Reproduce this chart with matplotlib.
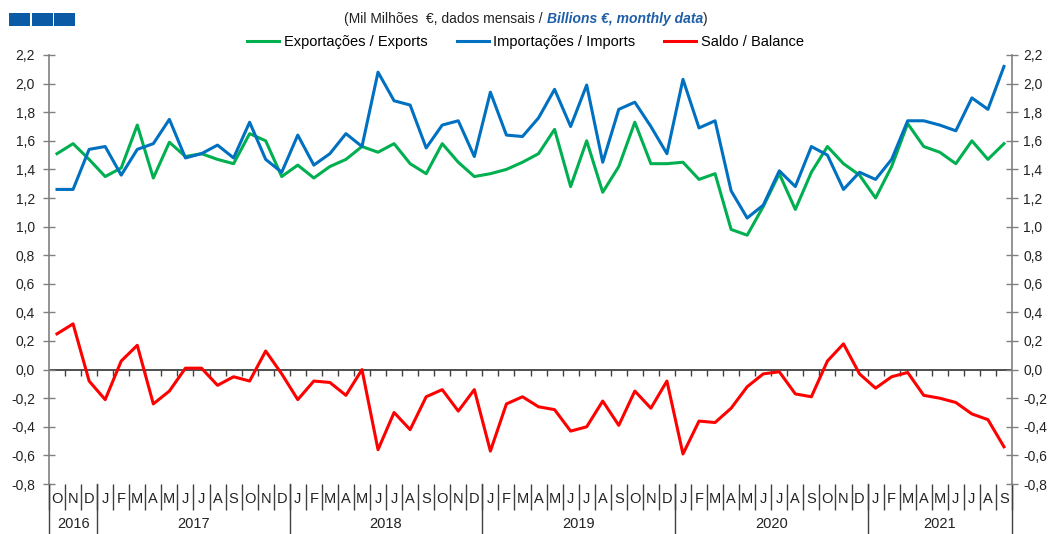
import numpy as np
import matplotlib
matplotlib.use("Agg")
import matplotlib.pyplot as plt
from matplotlib.patches import Rectangle
from matplotlib import font_manager

# fonts
names = set(f.name for f in font_manager.fontManager.ttflist)
narrow = "Liberation Sans Narrow" if "Liberation Sans Narrow" in names else "Liberation Sans"
plt.rcParams["font.family"] = ["Liberation Sans", "DejaVu Sans"]

# data: Oct 2016 .. Sep 2021, monthly, billions of euros
exports = [1.51, 1.58, 1.47, 1.35, 1.41, 1.71, 1.34, 1.59, 1.49, 1.51,
           1.47, 1.44, 1.65, 1.60, 1.35, 1.43, 1.34, 1.42, 1.47, 1.56,
           1.52, 1.58, 1.44, 1.37, 1.58, 1.45, 1.35, 1.37, 1.40, 1.45,
           1.51, 1.68, 1.28, 1.60, 1.24, 1.42, 1.73, 1.44, 1.44, 1.45,
           1.33, 1.37, 0.98, 0.94, 1.14, 1.37, 1.12, 1.38, 1.56, 1.44,
           1.36, 1.20, 1.42, 1.72, 1.56, 1.52, 1.44, 1.60, 1.47, 1.58]
imports = [1.26, 1.26, 1.54, 1.56, 1.36, 1.54, 1.58, 1.75, 1.48, 1.51,
           1.57, 1.48, 1.73, 1.47, 1.38, 1.64, 1.43, 1.51, 1.65, 1.56,
           2.08, 1.88, 1.85, 1.55, 1.71, 1.74, 1.49, 1.94, 1.64, 1.63,
           1.76, 1.96, 1.70, 1.99, 1.45, 1.82, 1.87, 1.70, 1.51, 2.03,
           1.69, 1.74, 1.25, 1.06, 1.15, 1.39, 1.28, 1.56, 1.50, 1.26,
           1.38, 1.33, 1.47, 1.74, 1.74, 1.71, 1.67, 1.90, 1.82, 2.12]
balance = [0.25, 0.32, -0.08, -0.21, 0.06, 0.17, -0.24, -0.15, 0.01, 0.01,
           -0.11, -0.05, -0.08, 0.13, -0.03, -0.21, -0.08, -0.09, -0.18, 0.00,
           -0.56, -0.30, -0.42, -0.19, -0.14, -0.29, -0.14, -0.57, -0.24, -0.19,
           -0.26, -0.28, -0.43, -0.40, -0.22, -0.39, -0.15, -0.27, -0.08, -0.59,
           -0.36, -0.37, -0.27, -0.12, -0.03, -0.015, -0.17, -0.19, 0.06, 0.18,
           -0.03, -0.13, -0.05, -0.02, -0.18, -0.20, -0.23, -0.31, -0.35, -0.54]

month_letters = ["J", "F", "M", "A", "M", "J", "J", "A", "S", "O", "N", "D"]
months = month_letters[9:] + month_letters * 4 + month_letters[:9]
years = ["2016", "2017", "2018", "2019", "2020", "2021"]
year_counts = [3, 12, 12, 12, 12, 9]

green = "#00b050"
blue = "#0070c0"
red = "#ff0000"
axis_col = "#808080"

W, H = 1051, 534
fig = plt.figure(figsize=(W / 100, H / 100), dpi=100)
left, right, top, bottom = 49, 1012, 55, 484
ax = fig.add_axes([left / W, 1 - bottom / H, (right - left) / W, (bottom - top) / H])

x = np.arange(len(exports))
l1, = ax.plot(x, exports, color=green, lw=2.2, label="Exportações / Exports")
l2, = ax.plot(x, imports, color=blue, lw=2.2, label="Importações / Imports")
l3, = ax.plot(x, balance, color=red, lw=2.2, label="Saldo / Balance")

ymin, ymax = -0.8, 2.2
ax.set_xlim(-0.5, len(x) - 0.5)
ax.set_ylim(ymin, ymax)

yt = np.round(np.arange(ymin, ymax + 0.01, 0.2), 1)
ylabels = [("%.1f" % v).replace(".", ",").replace("-0,0", "0,0") for v in yt]
ax.set_yticks(yt)
ax.set_yticklabels(ylabels)
ax.tick_params(axis="y", direction="inout", length=8, width=1, color=axis_col,
               labelsize=10, labelcolor="#222222", pad=6)

for s in ["top", "bottom", "right"]:
    ax.spines[s].set_visible(False)
ax.spines["left"].set_color(axis_col)
ax.spines["left"].set_linewidth(1.2)

ax2 = ax.twinx()
ax2.set_ylim(ymin, ymax)
ax2.set_yticks(yt)
ax2.set_yticklabels(ylabels)
ax2.tick_params(axis="y", direction="inout", length=8, width=1, color=axis_col,
                labelsize=10, labelcolor="#222222", pad=4)
for s in ["top", "bottom", "left"]:
    ax2.spines[s].set_visible(False)
ax2.spines["right"].set_color(axis_col)
ax2.spines["right"].set_linewidth(1.2)

# zero line with month ticks
bounds = np.arange(-0.5, len(x) + 0.5, 1.0)
ax.axhline(0, color="#404040", lw=1.3, zorder=1)
zero_frac = (0 - ymin) / (ymax - ymin)
sec = ax.secondary_xaxis(zero_frac)
sec.set_xticks(bounds[1:-1])
sec.set_xticklabels([])
sec.tick_params(direction="out", length=4, width=1, color="#404040")
sec.spines["bottom"].set_visible(False)

# month labels and separators below the plot
ax.set_xticks(bounds)
ax.set_xticklabels([])
ax.tick_params(axis="x", which="major", direction="out", length=19, width=1, color="#404040")
ax.set_xticks(x, minor=True)
ax.set_xticklabels(months, minor=True)
ax.tick_params(axis="x", which="minor", length=0, pad=6, labelsize=10.5, labelcolor="#222222")

trans = ax.get_xaxis_transform()
bot_frac = -(H - bottom) / (bottom - top)
yl_frac = -40 / (bottom - top)
start = -0.5
for yr, n in zip(years, year_counts):
    ax.plot([start, start], [0, bot_frac], transform=trans, color="#404040", lw=1,
            clip_on=False)
    ax.text(start + n / 2, yl_frac, yr, transform=trans, ha="center", va="center",
            fontsize=10.5, color="#222222")
    start += n
ax.plot([start, start], [0, bot_frac], transform=trans, color="#404040", lw=1, clip_on=False)

# legend
fig.legend(handles=[l1, l2, l3], loc="center", bbox_to_anchor=(0.5, 1 - 42 / H),
           ncol=3, frameon=False, handlelength=2.2, columnspacing=2.0, handletextpad=0.3,
           prop={"family": narrow, "size": 10.5})

# title in pieces
fig.canvas.draw()
r = fig.canvas.get_renderer()
ty = 1 - 19 / H
parts = [("(Mil Milhões  €, dados mensais / ", "normal", "normal", "#222222"),
         ("Billions €, monthly data", "bold", "italic", "#1f5fa8"),
         (")", "normal", "normal", "#222222")]
texts = []
for s, wt, st, c in parts:
    texts.append(fig.text(0, ty, s, fontsize=10, family=narrow, weight=wt, style=st,
                          color=c, va="center", ha="left"))
widths = [t.get_window_extent(r).width for t in texts]
xpos = 526 - sum(widths) / 2
for t, w in zip(texts, widths):
    t.set_x(xpos / W)
    xpos += w

# three blue squares
for i in range(3):
    fig.add_artist(Rectangle(((9 + i * 22.5) / W, 1 - 26 / H), 21 / W, 13 / H,
                             transform=fig.transFigure, color="#0b5aa5", lw=0))

fig.savefig("out.png", dpi=100)
